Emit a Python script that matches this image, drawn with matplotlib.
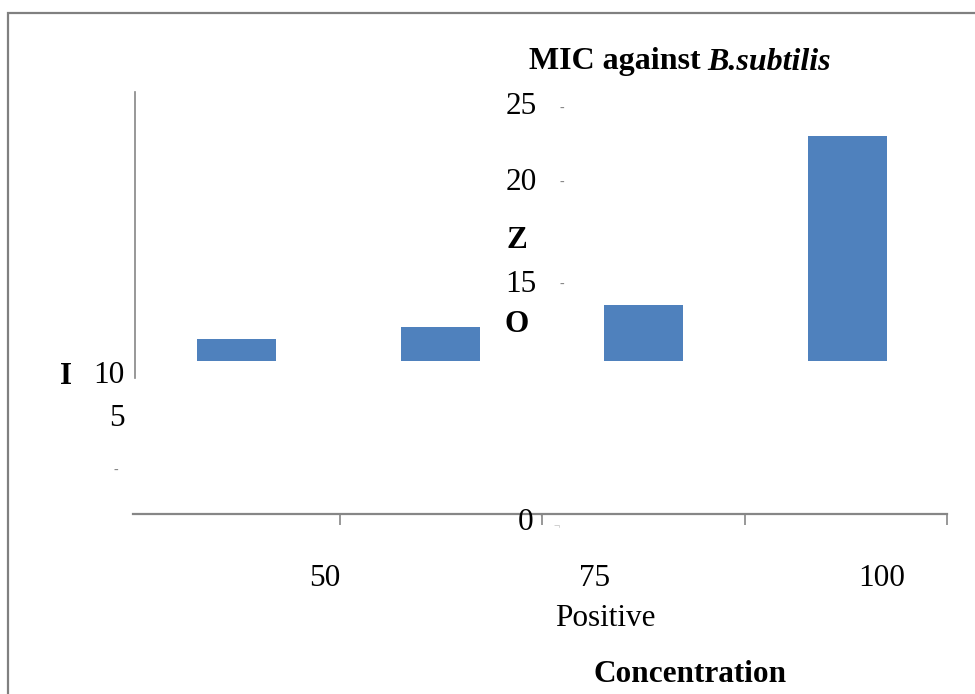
import matplotlib
matplotlib.use("Agg")
import matplotlib.pyplot as plt
from matplotlib.patches import Rectangle

# Datos (MIC frente a B. subtilis)
categories = ["50", "75", "100", "Positive"]
bar_tops = [10.8, 11.5, 12.9, 23.3]
bar_base = 9.4
y_labels = ["25", "20", "15", "10", "5", "0"]

W, H = 975, 694
BLUE = "#4F81BD"
GRAY = "#868686"
plt.rcParams["font.family"] = ["Liberation Serif", "DejaVu Serif"]


def fx(px):
    return px / W


def fy(py):
    return 1 - py / H


fig = plt.figure(figsize=(W / 100, H / 100), dpi=100)

# Marco gris (solo se ven los bordes superior e izquierdo)
fig.patches.append(Rectangle((fx(8), fy(H + 20)), 2.0, fy(13) - fy(H + 20),
                             transform=fig.transFigure, fill=False,
                             edgecolor="#808080", linewidth=1.6))

# Ejes: 0 en el eje x (y=514 px), 25 a y=108 px
scale = (514 - 108) / 25
ytop = (514 - 92) / scale
ax = fig.add_axes([fx(133), fy(514), fx(947) - fx(133), fy(92) - fy(514)])
ax.set_xlim(0, 4)
ax.set_ylim(0, ytop)

x = [i + 0.51 for i in range(len(categories))]
heights = [t - bar_base for t in bar_tops]
ax.bar(x, heights, bottom=bar_base, width=0.39, color=BLUE, edgecolor="none")

for s in ["top", "right"]:
    ax.spines[s].set_visible(False)
ax.spines["left"].set_color(GRAY)
ax.spines["bottom"].set_color(GRAY)
ax.spines["left"].set_linewidth(1.2)
ax.spines["bottom"].set_linewidth(1.6)
ax.spines["left"].set_bounds((514 - 378) / scale, ytop)
ax.spines["left"].set_position(("data", 0.01))
ax.set_yticks([])
ax.set_xticks([1.015, 2.01, 3.005, 4])
ax.set_xticklabels([])
ax.tick_params(axis="x", direction="out", length=8, width=1.2, color=GRAY)

fs = 22.5
# Textos desplazados, tal como aparecen en la figura original
fig.text(fx(701), fy(62), "MIC against", fontsize=23, fontweight="bold",
         ha="right", va="center")
fig.text(fx(707), fy(62), "B.subtilis", fontsize=23, fontweight="bold",
         fontstyle="italic", ha="left", va="center")

label_pos = {"25": (537, 106), "20": (537, 182), "15": (537, 284),
             "10": (125, 375), "5": (125, 418), "0": (533, 522)}
for lab in y_labels:
    px, py = label_pos[lab]
    fig.text(fx(px), fy(py), lab, fontsize=fs, ha="right", va="center")

for py in [108, 182, 284]:
    fig.text(fx(562), fy(py), "-", fontsize=10, color=GRAY,
             ha="center", va="center")
fig.text(fx(116), fy(470), "-", fontsize=10, color=GRAY, ha="center", va="center")
fig.text(fx(541), fy(519), "'", fontsize=10, color=GRAY, ha="center", va="center")
fig.text(fx(557), fy(527), "¬", fontsize=8, color="#aaaaaa", ha="center", va="center")

fig.text(fx(517), fy(240), "Z", fontsize=fs, fontweight="bold", ha="center", va="center")
fig.text(fx(517), fy(325), "O", fontsize=fs, fontweight="bold", ha="center", va="center")
fig.text(fx(66), fy(377), "I", fontsize=fs, fontweight="bold", ha="center", va="center")

cat_pos = [(325, 578), (595, 578), (882, 578), (605, 618)]
for lab, (px, py) in zip(categories, cat_pos):
    fig.text(fx(px), fy(py), lab, fontsize=fs, ha="center", va="center")

fig.text(fx(690), fy(675), "Concentration", fontsize=fs, fontweight="bold",
         ha="center", va="center")

fig.savefig("out.png", dpi=100)
